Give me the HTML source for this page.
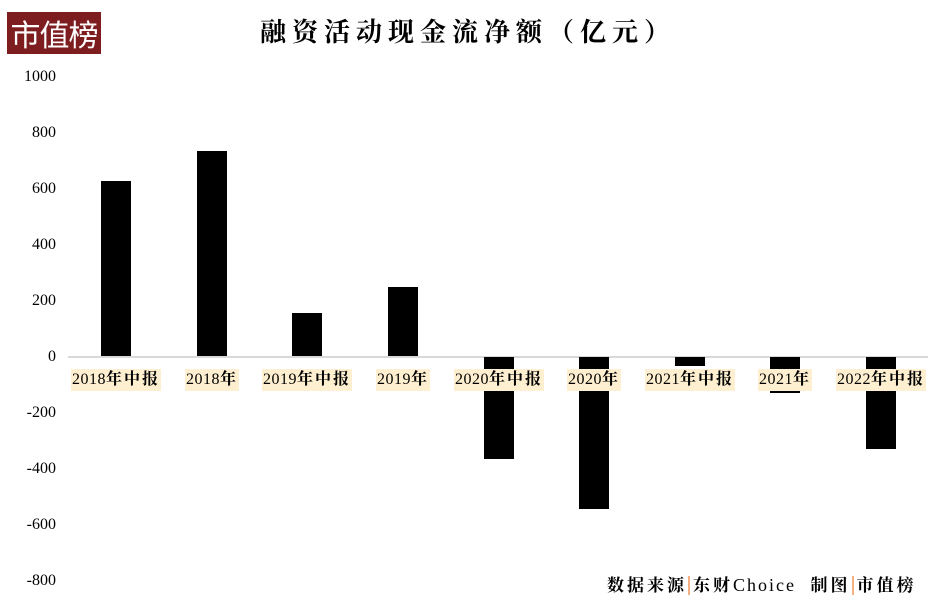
<!DOCTYPE html>
<html><head><meta charset="utf-8"><style>
body{margin:0;width:945px;height:612px;background:#fff;position:relative;overflow:hidden;font-family:"Liberation Serif","Noto Serif CJK SC",serif;}
.a{position:absolute}
.y{position:absolute;left:0;width:56px;text-align:right;font-size:16px;color:#000;line-height:16px}
.bar{position:absolute;width:30px;background:#000}
.lab{position:absolute;top:369px;height:22px;line-height:22px;background:#fdefcf;font-size:16px;white-space:nowrap;transform:translateX(-50%);padding:0 1px;letter-spacing:0.5px}
.lab b{font-weight:bold;letter-spacing:2px}
</style></head><body>
<div class="a" style="left:7px;top:12px;width:94px;height:42px;background:#7e1d20;color:#fff;font-family:'Noto Sans CJK SC',sans-serif;font-size:30px;line-height:42px;text-align:center;letter-spacing:-1px">市值榜</div>
<div class="a" style="left:260px;top:12px;font-size:26px;font-weight:bold;font-family:'Noto Serif CJK SC',serif;letter-spacing:6px;white-space:nowrap">融资活动现金流净额（亿元）</div>
<div class="y" style="top:69px">1000</div>
<div class="y" style="top:125px">800</div>
<div class="y" style="top:181px">600</div>
<div class="y" style="top:237px">400</div>
<div class="y" style="top:293px">200</div>
<div class="y" style="top:349px">0</div>
<div class="y" style="top:405px">-200</div>
<div class="y" style="top:461px">-400</div>
<div class="y" style="top:517px">-600</div>
<div class="y" style="top:573px">-800</div>
<div class="a" style="left:68px;top:356px;width:860px;height:2px;background:#d9d9d9"></div>
<div class="bar" style="left:101px;top:181px;height:175px"></div>
<div class="bar" style="left:197px;top:151px;height:205px"></div>
<div class="bar" style="left:292px;top:313px;height:43px"></div>
<div class="bar" style="left:388px;top:287px;height:69px"></div>
<div class="bar" style="left:484px;top:357px;height:102px"></div>
<div class="bar" style="left:579px;top:357px;height:152px"></div>
<div class="bar" style="left:675px;top:357px;height:9px"></div>
<div class="bar" style="left:770px;top:357px;height:36px"></div>
<div class="bar" style="left:866px;top:357px;height:92px"></div>
<div class="lab" style="left:116px">2018<b>年中报</b></div>
<div class="lab" style="left:212px">2018<b>年</b></div>
<div class="lab" style="left:307px">2019<b>年中报</b></div>
<div class="lab" style="left:403px">2019<b>年</b></div>
<div class="lab" style="left:499px">2020<b>年中报</b></div>
<div class="lab" style="left:594px">2020<b>年</b></div>
<div class="lab" style="left:690px">2021<b>年中报</b></div>
<div class="lab" style="left:785px">2021<b>年</b></div>
<div class="lab" style="left:881px">2022<b>年中报</b></div>
<div class="a" style="left:607px;top:574px;font-size:17px;white-space:nowrap;line-height:22px;font-weight:bold;letter-spacing:3px">数据来源<span style="border-left:2px solid #f4b183;margin:0 3px 0 1px"></span>东财<span style="font-weight:normal;letter-spacing:2px;font-size:18px">Choice</span>&nbsp;&nbsp;制图<span style="border-left:2px solid #f4b183;margin:0 3px 0 1px"></span>市值榜</div>
</body></html>
